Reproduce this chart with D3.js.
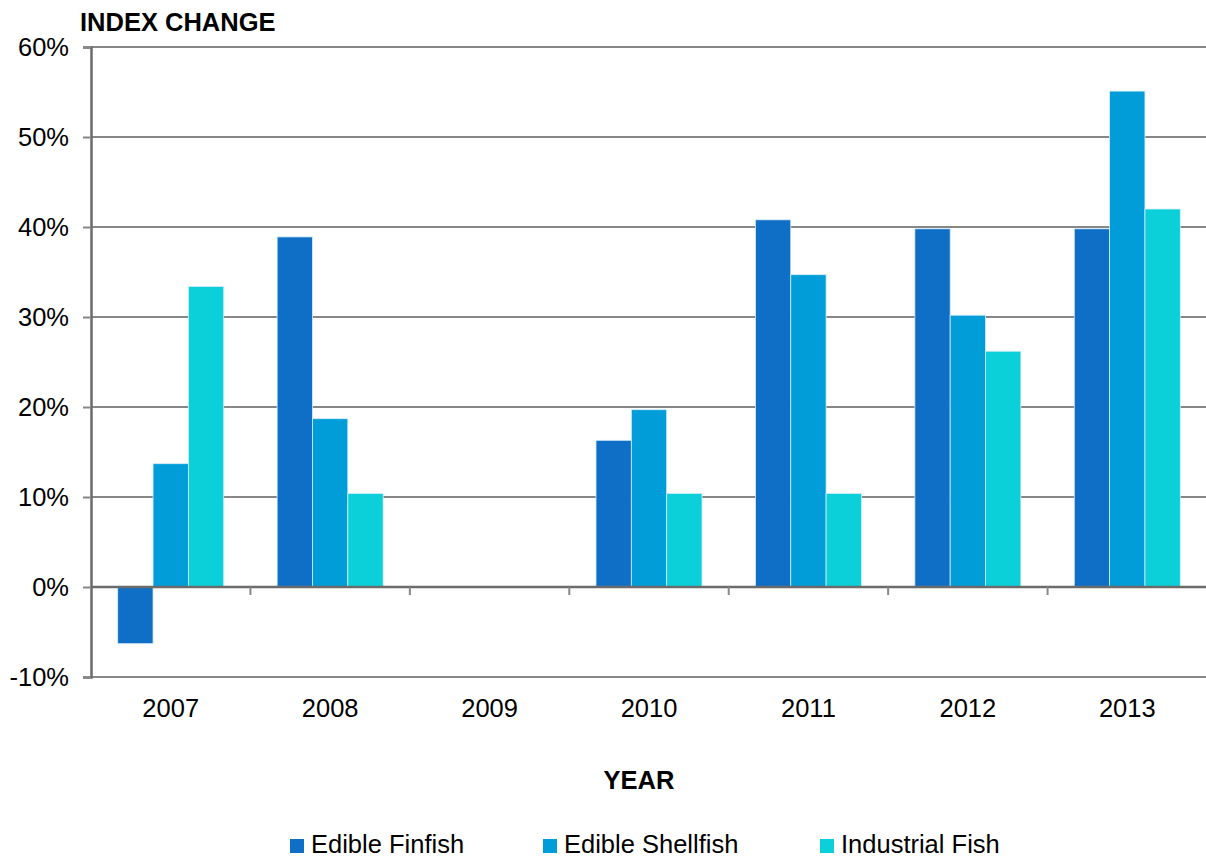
<!DOCTYPE html>
<html><head><meta charset="utf-8">
<script src="https://cdn.jsdelivr.net/npm/d3@7"></script>
<style>body{margin:0;background:#fff;} svg{display:block;font-family:"Liberation Sans",Arial,sans-serif;}</style>
</head><body>
<svg id="c" width="1206" height="859"></svg>
<script>
const years = ["2007","2008","2009","2010","2011","2012","2013"];
const seriesNames = ["Edible Finfish","Edible Shellfish","Industrial Fish"];
const finfish   = [-6.3, 38.9, null, 16.3, 40.8, 39.8, 39.8];
const shellfish = [13.7, 18.7, null, 19.7, 34.7, 30.2, 55.1];
const industrial= [33.4, 10.4, null, 10.4, 10.4, 26.2, 42.0];
const colors = ["#0F6FC6","#009DD9","#0BD0D9"];
const yTicks = [-10,0,10,20,30,40,50,60];

const svg = d3.select("#c");
const L=91, R=1207, T=47, B=677;
const FS = 25.5;
const x = d3.scaleBand().domain(years).range([L,R]).paddingInner(0.335).paddingOuter(0.1675);
const x0 = d3.scaleBand().domain(years).range([L,R]);
const y = d3.scaleLinear().domain([-10,60]).range([B,T]);
const xs = d3.scaleBand().domain(seriesNames).range([0,x.bandwidth()]);

// gridlines
svg.append("g").selectAll("line").data(yTicks.filter(d=>d!==0)).join("line")
  .attr("x1",L).attr("x2",R).attr("y1",d=>y(d)).attr("y2",d=>y(d))
  .attr("stroke","#878787").attr("stroke-width",2);

// bars
const data = [finfish, shellfish, industrial];
data.forEach((vals,si)=>{
  svg.append("g").selectAll("rect").data(years.map((yr,i)=>({yr,v:vals[i]})).filter(d=>d.v!==null)).join("rect")
    .attr("x",d=>x(d.yr)+xs(seriesNames[si]))
    .attr("width",xs.bandwidth())
    .attr("y",d=>Math.min(y(d.v),y(0)))
    .attr("height",d=>Math.abs(y(d.v)-y(0)))
    .attr("fill",colors[si])
    .attr("stroke","#d8eefa").attr("stroke-width",0.8);
});

// y axis
const yAxis = d3.axisLeft(y).tickValues(yTicks).tickFormat(d=>d+"%").tickSize(8).tickPadding(14);
const ya = svg.append("g").attr("transform",`translate(${L},0)`).call(yAxis);
ya.select(".domain").attr("stroke","#6b6b6b").attr("stroke-width",2.5);
ya.selectAll(".tick line").attr("stroke","#878787").attr("stroke-width",2);
ya.selectAll("text").attr("font-size",FS).attr("fill","#000").attr("font-family","Liberation Sans, Arial, sans-serif");

// zero axis line with category boundary ticks
svg.append("line").attr("x1",L).attr("x2",R).attr("y1",y(0)).attr("y2",y(0)).attr("stroke","#6b6b6b").attr("stroke-width",2.5);
svg.append("g").selectAll("line").data(years.slice(1)).join("line")
  .attr("x1",d=>x0(d)).attr("x2",d=>x0(d)).attr("y1",y(0)).attr("y2",y(0)+8)
  .attr("stroke","#878787").attr("stroke-width",2);

// x labels
svg.append("g").selectAll("text").data(years).join("text")
  .attr("x",d=>x0(d)+x0.bandwidth()/2).attr("y",717)
  .attr("text-anchor","middle").attr("font-size",FS).attr("fill","#000").text(d=>d);

// titles
svg.append("text").attr("x",80).attr("y",31).attr("font-size",FS).attr("font-weight","bold").text("INDEX CHANGE");
svg.append("text").attr("x",639).attr("y",789).attr("text-anchor","middle").attr("font-size",FS).attr("font-weight","bold").text("YEAR");

// legend
const legX = [290, 543, 820];
const lg = svg.append("g");
seriesNames.forEach((n,i)=>{
  lg.append("rect").attr("x",legX[i]).attr("y",839).attr("width",14).attr("height",14).attr("fill",colors[i]);
  lg.append("text").attr("x",legX[i]+21).attr("y",853).attr("font-size",FS).attr("fill","#000").text(n);
});
</script>
</body></html>
